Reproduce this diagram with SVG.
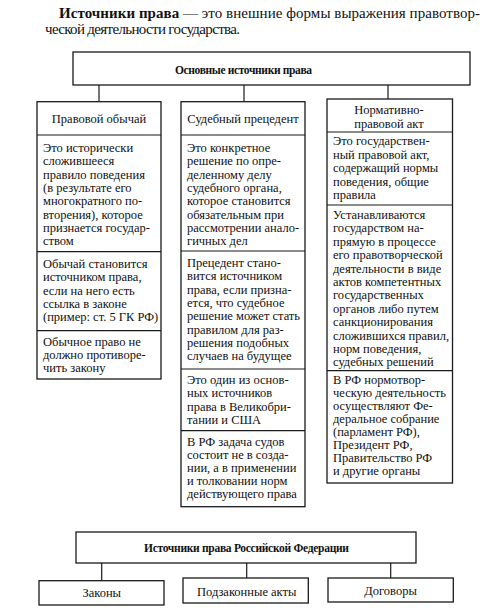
<svg xmlns="http://www.w3.org/2000/svg" width="489" height="612" viewBox="0 0 489 612">
<style>
.box{fill:#fff;stroke:#1a1a1a;stroke-width:1.3}
.sep{stroke:#1a1a1a;stroke-width:1.2}
.con{stroke:#1a1a1a;stroke-width:1.2;fill:none}
.t{font-family:"Liberation Serif","Times New Roman",serif;font-size:12.5px;fill:#111}
.h{font-family:"Liberation Serif","Times New Roman",serif;font-size:12.5px;fill:#111;text-anchor:middle}
.bh{font-family:"Liberation Serif","Times New Roman",serif;font-size:11.5px;font-weight:bold;fill:#111;text-anchor:middle}
.p{font-family:"Liberation Serif","Times New Roman",serif;font-size:15px;fill:#111}
</style>
<rect width="489" height="612" fill="#fff"/>
<g id="intro">
<text class="p" x="59" y="18" textLength="421"><tspan font-weight="bold">Источники права</tspan> — это внешние формы выражения правотвор-</text>
<text class="p" x="45" y="34" textLength="195">ческой деятельности государства.</text>
</g>
<g id="connectors">
<line class="con" x1="99" y1="85" x2="99" y2="101.7"/>
<line class="con" x1="244" y1="85" x2="244" y2="101.7"/>
<line class="con" x1="388" y1="85" x2="388" y2="99"/>
<line class="con" x1="101.7" y1="563" x2="101.7" y2="580.7"/>
<line class="con" x1="246.7" y1="563" x2="246.7" y2="578"/>
<line class="con" x1="390.7" y1="563" x2="390.7" y2="578"/>
</g>
<g id="main-sources">
<rect class="box" x="73" y="52" width="397" height="33"/>
<text class="bh" x="243.5" y="74" textLength="137">Основные источники права</text>
</g>
<g id="custom">
<rect class="box" x="37" y="101.7" width="124" height="277.3"/>
<line class="sep" x1="37" y1="135" x2="161" y2="135"/>
<line class="sep" x1="37" y1="251.7" x2="161" y2="251.7"/>
<line class="sep" x1="37" y1="330.7" x2="161" y2="330.7"/>
<text class="h" x="99" y="123">Правовой обычай</text>
<text class="t"><tspan x="43" y="152">Это исторически</tspan><tspan x="43" y="165.3">сложившееся</tspan><tspan x="43" y="178.6">правило поведения</tspan><tspan x="43" y="191.9">(в результате его</tspan><tspan x="43" y="205.2">многократного по-</tspan><tspan x="43" y="218.5">вторения), которое</tspan><tspan x="43" y="231.8">признается государ-</tspan><tspan x="43" y="245.1">ством</tspan></text>
<text class="t"><tspan x="43" y="268">Обычай становится</tspan><tspan x="43" y="281.3">источником права,</tspan><tspan x="43" y="294.6">если на него есть</tspan><tspan x="43" y="307.9">ссылка в законе</tspan><tspan x="43" y="321.2">(пример: ст. 5 ГК РФ)</tspan></text>
<text class="t"><tspan x="43" y="345.5">Обычное право не</tspan><tspan x="43" y="358.8">должно противоре-</tspan><tspan x="43" y="372.1">чить закону</tspan></text>
</g>
<g id="precedent">
<rect class="box" x="181" y="101.7" width="124" height="405"/>
<line class="sep" x1="181" y1="135" x2="305" y2="135"/>
<line class="sep" x1="181" y1="251" x2="305" y2="251"/>
<line class="sep" x1="181" y1="369" x2="305" y2="369"/>
<line class="sep" x1="181" y1="430.7" x2="305" y2="430.7"/>
<text class="h" x="243" y="123">Судебный прецедент</text>
<text class="t"><tspan x="187" y="152">Это конкретное</tspan><tspan x="187" y="165.3">решение по опре-</tspan><tspan x="187" y="178.6">деленному делу</tspan><tspan x="187" y="191.9">судебного органа,</tspan><tspan x="187" y="205.2">которое становится</tspan><tspan x="187" y="218.5">обязательным при</tspan><tspan x="187" y="231.8">рассмотрении анало-</tspan><tspan x="187" y="245.1">гичных дел</tspan></text>
<text class="t"><tspan x="187" y="267">Прецедент стано-</tspan><tspan x="187" y="280.3">вится источником</tspan><tspan x="187" y="293.6">права, если призна-</tspan><tspan x="187" y="306.9">ется, что судебное</tspan><tspan x="187" y="320.2">решение может стать</tspan><tspan x="187" y="333.5">правилом для раз-</tspan><tspan x="187" y="346.8">решения подобных</tspan><tspan x="187" y="360.1">случаев на будущее</tspan></text>
<text class="t"><tspan x="187" y="384">Это один из основ-</tspan><tspan x="187" y="397.3">ных источников</tspan><tspan x="187" y="410.6">права в Великобри-</tspan><tspan x="187" y="423.9">тании и США</tspan></text>
<text class="t"><tspan x="187" y="446">В РФ задача судов</tspan><tspan x="187" y="459">состоит не в созда-</tspan><tspan x="187" y="472">нии, а в применении</tspan><tspan x="187" y="485">и толковании норм</tspan><tspan x="187" y="498">действующего права</tspan></text>
</g>
<g id="normative-act">
<rect class="box" x="327" y="99" width="125.5" height="384"/>
<line class="sep" x1="327" y1="132" x2="452.5" y2="132"/>
<line class="sep" x1="327" y1="205" x2="452.5" y2="205"/>
<line class="sep" x1="327" y1="370.7" x2="452.5" y2="370.7"/>
<text class="h"><tspan x="389" y="114">Нормативно-</tspan><tspan x="389" y="128">правовой акт</tspan></text>
<text class="t"><tspan x="333" y="145">Это государствен-</tspan><tspan x="333" y="158.5">ный правовой акт,</tspan><tspan x="333" y="172">содержащий нормы</tspan><tspan x="333" y="185.5">поведения, общие</tspan><tspan x="333" y="199">правила</tspan></text>
<text class="t"><tspan x="333" y="219">Устанавливаются</tspan><tspan x="333" y="232.4">государством на-</tspan><tspan x="333" y="245.8">прямую в процессе</tspan><tspan x="333" y="259.2">его правотворческой</tspan><tspan x="333" y="272.6">деятельности в виде</tspan><tspan x="333" y="286">актов компетентных</tspan><tspan x="333" y="299.4">государственных</tspan><tspan x="333" y="312.8">органов либо путем</tspan><tspan x="333" y="326.2">санкционирования</tspan><tspan x="333" y="339.6">сложившихся правил,</tspan><tspan x="333" y="353">норм поведения,</tspan><tspan x="333" y="366.4">судебных решений</tspan></text>
<text class="t"><tspan x="333" y="383.5">В РФ нормотвор-</tspan><tspan x="333" y="396.5">ческую деятельность</tspan><tspan x="333" y="409.5">осуществляют Фе-</tspan><tspan x="333" y="422.5">деральное собрание</tspan><tspan x="333" y="435.5">(парламент РФ),</tspan><tspan x="333" y="448.5">Президент РФ,</tspan><tspan x="333" y="461.5">Правительство РФ</tspan><tspan x="333" y="474.5">и другие органы</tspan></text>
</g>
<g id="rf-sources">
<rect class="box" x="76" y="532" width="340" height="31"/>
<text class="bh" x="246.5" y="552" textLength="205">Источники права Российской Федерации</text>
</g>
<g id="laws">
<rect class="box" x="39" y="580.7" width="125" height="24.3"/>
<text class="h" x="101.7" y="597">Законы</text>
</g>
<g id="bylaws">
<rect class="box" x="183" y="578" width="125.3" height="25"/>
<text class="h" x="246.7" y="595.5">Подзаконные акты</text>
</g>
<g id="treaties">
<rect class="box" x="328" y="578" width="125.3" height="24"/>
<text class="h" x="390.5" y="595">Договоры</text>
</g>
</svg>
